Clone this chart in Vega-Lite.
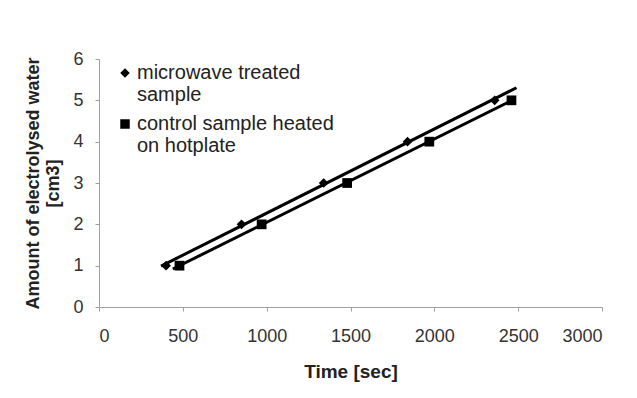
{
  "$schema": "https://vega.github.io/schema/vega-lite/v6.json",
  "autosize": "none",
  "width": 503,
  "height": 248,
  "padding": {"left": 99, "top": 59, "right": 35, "bottom": 91},
  "background": "white",
  "config": {
    "view": {"stroke": null},
    "font": "Liberation Sans",
    "axis": {
      "grid": false,
      "domainColor": "#a0a0a0",
      "tickColor": "#a0a0a0",
      "tickSize": 4,
      "labelFont": "Liberation Sans",
      "labelFontSize": 18,
      "labelColor": "#333333",
      "titleFont": "Liberation Sans",
      "titleFontSize": 19,
      "titleFontWeight": "bold",
      "titleColor": "#222222"
    }
  },
  "data": {
    "values": [
      {"series": "microwave treated sample", "time": 400, "water": 1},
      {"series": "microwave treated sample", "time": 850, "water": 2},
      {"series": "microwave treated sample", "time": 1340, "water": 3},
      {"series": "microwave treated sample", "time": 1840, "water": 4},
      {"series": "microwave treated sample", "time": 2360, "water": 5},
      {"series": "control sample heated on hotplate", "time": 480, "water": 1},
      {"series": "control sample heated on hotplate", "time": 970, "water": 2},
      {"series": "control sample heated on hotplate", "time": 1480, "water": 3},
      {"series": "control sample heated on hotplate", "time": 1970, "water": 4},
      {"series": "control sample heated on hotplate", "time": 2460, "water": 5}
    ]
  },
  "encoding": {
    "x": {
      "field": "time", "type": "quantitative",
      "scale": {"domain": [0, 3000], "nice": false},
      "axis": {"values": [0, 500, 1000, 1500, 2000, 2500, 3000], "format": "d", "title": "Time [sec]", "labelPadding": 16, "titlePadding": 17}
    },
    "y": {
      "field": "water", "type": "quantitative",
      "scale": {"domain": [0, 6], "nice": false},
      "axis": {"values": [0, 1, 2, 3, 4, 5, 6], "title": ["Amount of electrolysed water", "[cm3]"], "titleFontSize": 18, "labelPadding": 12, "titlePadding": 10}
    }
  },
  "layer": [
    {
      "transform": [
        {"filter": "datum.series == 'microwave treated sample'"},
        {"regression": "water", "on": "time", "extent": [370, 2490]}
      ],
      "mark": {"type": "line", "color": "black", "strokeWidth": 3},
      "encoding": {}
    },
    {
      "transform": [
        {"filter": "datum.series == 'control sample heated on hotplate'"},
        {"regression": "water", "on": "time", "extent": [440, 2480]}
      ],
      "mark": {"type": "line", "color": "black", "strokeWidth": 3},
      "encoding": {}
    },
    {
      "mark": {"type": "point", "filled": true, "opacity": 1, "color": "black", "size": 95},
      "encoding": {
        "shape": {
          "field": "series", "type": "nominal",
          "scale": {"domain": ["microwave treated sample", "control sample heated on hotplate"], "range": ["diamond", "square"]},
          "legend": {
            "title": null,
            "orient": "none",
            "legendX": 16,
            "legendY": 4,
            "labelFont": "Liberation Sans",
            "labelFontSize": 20,
            "labelColor": "#222222",
            "labelLimit": 300,
            "labelOffset": 2,
            "symbolFillColor": "black",
            "symbolStrokeColor": "black",
            "symbolSize": 90,
            "rowPadding": 9,
            "labelExpr": "datum.label == 'microwave treated sample' ? ['microwave treated', 'sample'] : ['control sample heated', 'on hotplate']"
          }
        }
      }
    }
  ]
}
